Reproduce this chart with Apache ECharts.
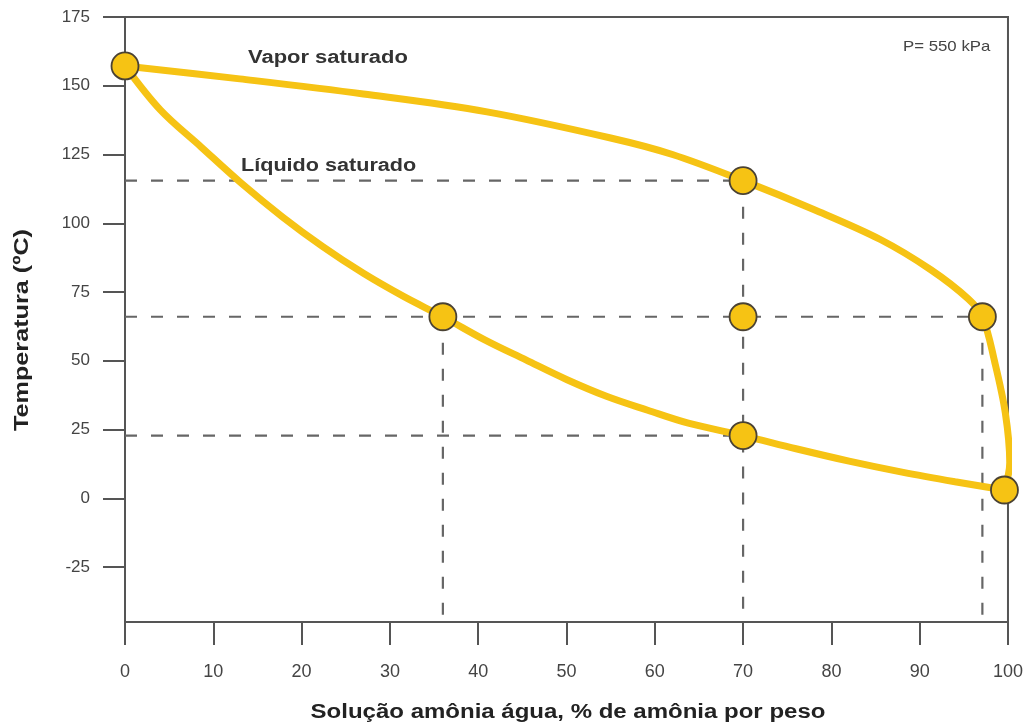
<!DOCTYPE html>
<html>
<head>
<meta charset="utf-8">
<script src="https://cdn.jsdelivr.net/npm/echarts@6/dist/echarts.min.js"></script>
<style>
html,body{margin:0;padding:0;background:#fff;}
#chart{width:1026px;height:726px;}
</style>
</head>
<body>
<div id="chart"></div>
<script>
// Axis ticks
const xTicks = [0,10,20,30,40,50,60,70,80,90,100];
const yTicks = [-25,0,25,50,75,100,125,150,175];

// Saturated vapour curve (x = % ammonia, y = °C)
const vaporCurve = [
  [0,157.2],[13,152.5],[27,147],[41,140.5],[55,131],[62,125],[70,115.5],
  [78,105],[85.6,94],[91.3,83],[95.5,72.5],[97.1,66],[98.5,49.5],[99.7,31],
  [100.2,13],[99.6,3]
];
// Saturated liquid curve
const liquidCurve = [
  [0,157.2],[4,141.2],[8.6,127.8],[13.2,114.5],[17.8,102.4],[22.4,91.5],
  [27,81.8],[31.6,73.3],[36,66],[40.8,57.5],[45.4,50.3],[50,43.2],[54.6,37],
  [59.2,32],[63.8,27.3],[70,22.8],[76,18],[82,13.5],[88,9.5],[94,6],[99.6,3]
];
// Marked state points
const keyPoints = [[0,157.2],[70,115.5],[97.1,66],[99.6,3],[70,22.8],[70,66],[36,66]];
// Guide lines: horizontal [y, xEnd], vertical [x, yStart]
const hGuides = [[115.5,70],[66,97.1],[22.8,70]];
const vGuides = [[70,115.5],[36,66],[97.1,66]];
const yMin = -45, yMax = 175;

const yellow = '#F6C314';
const guideStyle = {color:'#666', width:2.2, type:[12,14]};
const guideSeries = [];
hGuides.forEach(g => guideSeries.push({
  type:'line', data:[[0,g[0]],[g[1],g[0]]], symbol:'none', silent:true,
  lineStyle:guideStyle, z:1, clip:false
}));
vGuides.forEach(g => guideSeries.push({
  type:'line', data:[[g[0],g[1]],[g[0],yMin]], symbol:'none', silent:true,
  lineStyle:guideStyle, z:1, clip:false
}));

const chart = echarts.init(document.getElementById('chart'));
const font = '"Liberation Sans", Arial, sans-serif';
chart.setOption({
  backgroundColor:'#fff',
  animation:false,
  grid:{left:125,right:16,top:17,bottom:104,show:true,borderColor:'#555',borderWidth:2,backgroundColor:'transparent'},
  xAxis:{
    type:'value', min:0, max:100, interval:10,
    axisLine:{onZero:false,lineStyle:{color:'#555',width:2}},
    axisTick:{length:23,lineStyle:{color:'#555',width:2}},
    axisLabel:{fontFamily:font,fontSize:18,color:'#444',margin:41},
    splitLine:{show:false}
  },
  yAxis:{
    type:'value', min:yMin, max:yMax,
    axisLine:{onZero:false,lineStyle:{color:'#555',width:2}},
    axisTick:{length:22,lineStyle:{color:'#555',width:2},customValues:yTicks},
    axisLabel:{fontFamily:font,fontSize:17,color:'#444',margin:35,customValues:yTicks},
    splitLine:{show:false}
  },
  graphic:[
    {type:'text',x:248,y:58,scaleX:1.22,style:{text:'Vapor saturado',font:'bold 18px '+font,fill:'#333',align:'left',verticalAlign:'middle'}},
    {type:'text',x:241,y:166,scaleX:1.2,style:{text:'Líquido saturado',font:'bold 18px '+font,fill:'#333',align:'left',verticalAlign:'middle'}},
    {type:'text',x:903,y:47,scaleX:1.12,style:{text:'P= 550 kPa',font:'15px '+font,fill:'#444',align:'left',verticalAlign:'middle'}},
    {type:'text',x:568,y:712,scaleX:1.2,style:{text:'Solução amônia água, % de amônia por peso',font:'bold 20px '+font,fill:'#222',align:'center',verticalAlign:'middle'}},
    {type:'text',x:22,y:330,rotation:Math.PI/2,scaleX:1.2,style:{text:'Temperatura (ºC)',font:'bold 21px '+font,fill:'#222',align:'center',verticalAlign:'middle'}}
  ],
  series:[
    ...guideSeries,
    {type:'line',name:'Vapor saturado',data:vaporCurve,smooth:0.35,symbol:'none',clip:false,
      lineStyle:{color:yellow,width:7},z:2},
    {type:'line',name:'Líquido saturado',data:liquidCurve,smooth:0.35,symbol:'none',clip:false,
      lineStyle:{color:yellow,width:7},z:2},
    {type:'scatter',data:keyPoints,symbolSize:27,clip:false,
      itemStyle:{color:yellow,borderColor:'#4a4234',borderWidth:1.8,opacity:1},z:3}
  ]
});
</script>
</body>
</html>
